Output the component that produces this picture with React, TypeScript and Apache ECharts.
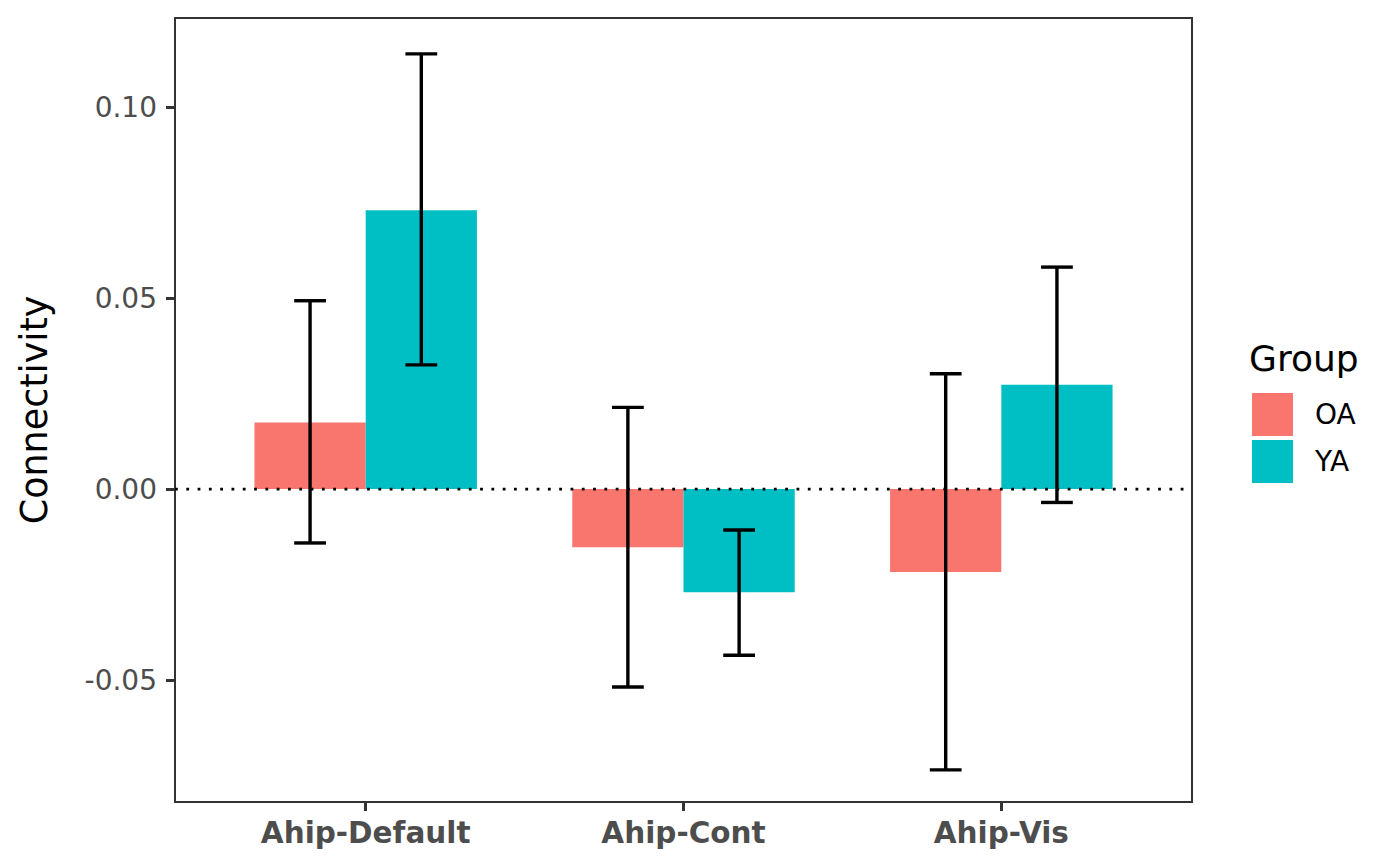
import React, { useEffect, useRef } from 'react';
import * as echarts from 'echarts';

const categories = ['Ahip-Default', 'Ahip-Cont', 'Ahip-Vis'];
const groups = ['OA', 'YA'];
const oaMean = [0.0174, -0.0152, -0.0217];
const oaLow = [-0.0141, -0.0518, -0.0735];
const oaHigh = [0.0493, 0.0214, 0.0302];
const yaMean = [0.073, -0.027, 0.0273];
const yaLow = [0.0325, -0.0435, -0.0035];
const yaHigh = [0.1139, -0.0107, 0.0581];
const yTicks = [-0.05, 0, 0.05, 0.1];
const xTicks = [1, 2, 3];
const groupColors = ['#F8766D', '#00BFC4'];

const FONT = '"DejaVu Sans", sans-serif';
const DODGE = 0.175;
const HALF_BAR = 0.175;
const HALF_CAP = 0.05;

function barSeries(name: string, means: number[], color: string, off: number) {
  return {
    type: 'custom',
    name,
    itemStyle: { color },
    z: 2,
    encode: { x: 0, y: 1 },
    data: means.map((v, i) => [i + 1, v]),
    renderItem: (params: any, api: any) => {
      const x = api.value(0) + off;
      const v = api.value(1);
      const a = api.coord([x - HALF_BAR, v]);
      const b = api.coord([x + HALF_BAR, 0]);
      return {
        type: 'rect',
        shape: {
          x: a[0],
          y: Math.min(a[1], b[1]),
          width: b[0] - a[0],
          height: Math.abs(b[1] - a[1]),
        },
        style: { fill: color },
      };
    },
  };
}

function errSeries(name: string, low: number[], high: number[], off: number) {
  return {
    type: 'custom',
    name,
    z: 5,
    encode: { x: 0, y: [1, 2] },
    data: low.map((l, i) => [i + 1, l, high[i]]),
    renderItem: (params: any, api: any) => {
      const x = api.value(0) + off;
      const lo = api.coord([x, api.value(1)]);
      const hi = api.coord([x, api.value(2)]);
      const left = api.coord([x - HALF_CAP, 0])[0];
      const right = api.coord([x + HALF_CAP, 0])[0];
      const st = { stroke: '#000000', lineWidth: 3.4 };
      return {
        type: 'group',
        children: [
          { type: 'line', shape: { x1: lo[0], y1: lo[1], x2: hi[0], y2: hi[1] }, style: st },
          { type: 'line', shape: { x1: left, y1: lo[1], x2: right, y2: lo[1] }, style: st },
          { type: 'line', shape: { x1: left, y1: hi[1], x2: right, y2: hi[1] }, style: st },
        ],
      };
    },
  };
}

export default function App() {
  const ref = useRef<HTMLDivElement>(null);
  useEffect(() => {
    document.body.style.margin = '0';
    const chart = echarts.init(ref.current!, null, { renderer: 'svg' });
    chart.setOption({
      animation: false,
      backgroundColor: '#ffffff',
      grid: {
        left: 175,
        top: 18,
        right: 208,
        bottom: 64,
        show: true,
        borderColor: '#333333',
        borderWidth: 2,
        backgroundColor: 'transparent',
        containLabel: false,
        outerBoundsMode: 'none',
      },
      xAxis: {
        type: 'value',
        min: 0.4,
        max: 3.6,
        axisLine: { show: false, onZero: false },
        splitLine: { show: false },
        axisTick: {
          show: true,
          customValues: xTicks,
          length: 9,
          lineStyle: { color: '#333333', width: 3 },
        },
        axisLabel: {
          customValues: xTicks,
          formatter: (v: number) => categories[Math.round(v) - 1] ?? '',
          margin: 16,
          fontFamily: FONT,
          fontSize: 29.5,
          fontWeight: 'bold',
          color: '#4D4D4D',
        },
      },
      yAxis: {
        type: 'value',
        min: -0.0819,
        max: 0.1233,
        axisLine: { show: false, onZero: false },
        splitLine: { show: false },
        axisTick: {
          show: true,
          customValues: yTicks,
          length: 9,
          lineStyle: { color: '#333333', width: 3 },
        },
        axisLabel: {
          customValues: yTicks,
          formatter: (v: number) => v.toFixed(2),
          margin: 18,
          fontFamily: FONT,
          fontSize: 28,
          color: '#4D4D4D',
        },
      },
      legend: {
        data: groups,
        orient: 'vertical',
        left: 1252,
        top: 393,
        itemWidth: 41,
        itemHeight: 43,
        itemGap: 4,
        icon: 'rect',
        padding: 0,
        selectedMode: false,
        textStyle: {
          fontFamily: FONT,
          fontSize: 28,
          color: '#000000',
          padding: [0, 0, 0, 17],
        },
      },
      graphic: [
        {
          type: 'text',
          x: 34,
          y: 410,
          rotation: Math.PI / 2,
          style: {
            text: 'Connectivity',
            fontFamily: FONT,
            fontSize: 36.5,
            fill: '#000000',
            textAlign: 'center',
            textVerticalAlign: 'middle',
          },
        },
        {
          type: 'text',
          x: 1249,
          y: 358,
          style: {
            text: 'Group',
            fontFamily: FONT,
            fontSize: 36,
            fill: '#000000',
            textAlign: 'left',
            textVerticalAlign: 'middle',
          },
        },
      ],
      series: [
        barSeries(groups[0], oaMean, groupColors[0], -DODGE),
        barSeries(groups[1], yaMean, groupColors[1], DODGE),
        {
          type: 'line',
          name: 'zero',
          z: 4,
          symbol: 'none',
          silent: true,
          data: [
            [0.4, 0],
            [3.6, 0],
          ],
          lineStyle: { color: '#000000', width: 2.8, type: [2.8, 8.5] },
        },
        errSeries('OA-err', oaLow, oaHigh, -DODGE),
        errSeries('YA-err', yaLow, yaHigh, DODGE),
      ],
    });
    return () => chart.dispose();
  }, []);
  return (
    <div
      ref={ref}
      style={{ position: 'absolute', left: 0, top: 0, width: 1400, height: 866 }}
    />
  );
}
